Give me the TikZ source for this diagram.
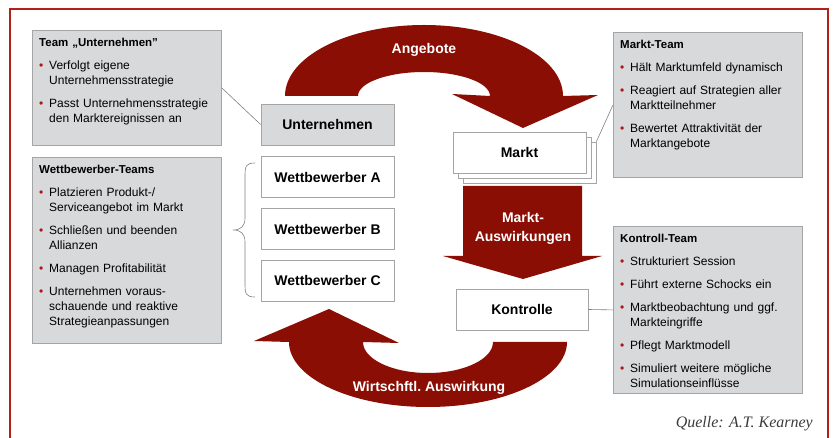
\documentclass[tikz,border=0pt]{standalone}
\usepackage{fontspec}
\setmainfont{Liberation Sans}
\newfontfamily\quellfont{Liberation Serif}
\usepackage{tikz}
\usetikzlibrary{positioning}
\definecolor{flowclr}{RGB}{139,14,4}
\definecolor{frameclr}{RGB}{178,32,26}
\definecolor{boxclr}{RGB}{216,217,219}
\definecolor{lineclr}{RGB}{165,165,165}
\definecolor{dotclr}{RGB}{175,22,20}
\definecolor{quelleclr}{RGB}{60,60,60}

% heading and bullet lines inside the team boxes
\newcommand{\kopf}[1]{\noindent{\fontsize{11.5}{15}\selectfont\bfseries #1}\par}
\newcommand{\punkt}[1]{\vspace{8pt}\hangindent=10pt\hangafter=1\noindent
  \makebox[10pt][l]{\textcolor{dotclr}{\textbullet}}#1\par}

\tikzset{ %
  ,box/.style={draw=lineclr, line width=0.8pt, fill=white, minimum width=133pt, minimum height=41pt, inner sep=0, font=\fontsize{14}{17}\selectfont\bfseries}
  ,teambox/.style={draw=lineclr, line width=0.8pt, fill=boxclr, inner sep=0, minimum width=189pt, anchor=north west}
  ,teamtxt/.style={inner sep=0, text width=180pt, align=left, font=\fontsize{12}{15}\selectfont}
  ,link/.style={draw=gray, line width=0.6pt}
  ,flow/.style={fill=flowclr}
  ,flowtxt/.style={text=white, inner sep=0, font=\fontsize{14}{19}\selectfont\bfseries}
}

\begin{document}
\begin{tikzpicture}[x=1pt, y=-1pt]
  \useasboundingbox (0,0) rectangle (833,438);
  \draw[frameclr, line width=1.5pt] (10,440) -- (10,9) -- (828,9) -- (828,440);

  % team boxes
  \node[teambox, minimum height=115pt] (teamU) at (32,30) {};
  \node[teamtxt, below right=8pt and 7pt of teamU.north west] (teamUtxt) {\kopf{Team „Unternehmen"}
    \punkt{Verfolgt eigene\newline Unternehmensstrategie}
    \punkt{Passt Unternehmensstrategie\newline den Marktereignissen an}};
  \node[teambox, minimum height=186pt] (teamW) at (32,157) {};
  \node[teamtxt, below right=8pt and 7pt of teamW.north west] (teamWtxt) {\kopf{Wettbewerber-Teams}
    \punkt{Platzieren Produkt-/\newline Serviceangebot im Markt}
    \punkt{Schließen und beenden\newline Allianzen}
    \punkt{Managen Profitabilität}
    \punkt{Unternehmen voraus-\newline schauende und reaktive\newline Strategieanpassungen}};
  \node[teambox, minimum height=145pt] (teamM) at (613,32) {};
  \node[teamtxt, below right=8pt and 7pt of teamM.north west] (teamMtxt) {\kopf{Markt-Team}
    \punkt{Hält Marktumfeld dynamisch}
    \punkt{Reagiert auf Strategien aller\newline Marktteilnehmer}
    \punkt{Bewertet Attraktivität der\newline Marktangebote}};
  \node[teambox, minimum height=167pt] (teamK) at (613,226) {};
  \node[teamtxt, below right=8pt and 7pt of teamK.north west] (teamKtxt) {\kopf{Kontroll-Team}
    \punkt{Strukturiert Session}
    \punkt{Führt externe Schocks ein}
    \punkt{Marktbeobachtung und ggf.\newline Markteingriffe}
    \punkt{Pflegt Marktmodell}
    \punkt{Simuliert weitere mögliche\newline Simulationseinflüsse}};

  % players
  \node[box, fill=boxclr] (unt) at (327.5,124.5) {Unternehmen};
  \node[box, below=11pt of unt] (wA) {Wettbewerber A};
  \node[box, below=10pt of wA] (wB) {Wettbewerber B};
  \node[box, below=10pt of wB] (wC) {Wettbewerber C};

  % market as a stack of sheets
  \node[box] (markt3) at (529.5,162.5) {};
  \node[box] (markt2) at (524.5,157.5) {};
  \node[box] (markt) at (519.5,152.5) {Markt};
  \node[box, minimum width=132pt] (kontr) at (522,309.5) {Kontrolle};

  \draw[link] (teamU.east) -- (unt.west);
  \draw[link] (markt3.north east) -- (teamM.west);
  \draw[link] (kontr.east) -- (teamK.west);
  \draw[link] (255,163) .. controls (246,163) and (245,166) .. (245,176) -- (245,218)
    .. controls (245,226) and (241,230) .. (233,230)
    .. controls (241,230) and (245,234) .. (245,242) -- (245,284)
    .. controls (245,294) and (246,297) .. (255,297);

  % flow arrows
  \fill[flow] (285,96) arc[start angle=180, end angle=360, x radius=139, y radius=71]
    -- (598,95) -- (523,128) -- (452,94) -- (490,96)
    arc[start angle=360, end angle=180, x radius=66, y radius=24] -- cycle;
  \fill[flow] (463,186) -- (582,186) -- (582,256) -- (602,256) -- (523,279)
    -- (443,256) -- (463,256) -- cycle;
  \fill[flow] (567,342) arc[start angle=0, end angle=180, x radius=139, y radius=65]
    -- (254,341) -- (329,309) -- (399,343) -- (363,342)
    arc[start angle=180, end angle=0, x radius=65, y radius=31] -- cycle;

  \node[flowtxt] (angebote) at (424,50) {Angebote};
  \node[flowtxt, align=center] (auswirk) at (523,228) {Markt-\\Auswirkungen};
  \node[flowtxt] (wirtsch) at (429,388) {Wirtschftl.\ Auswirkung};

  \node[anchor=base east, inner sep=0, text=quelleclr, font=\quellfont\itshape\fontsize{16}{18}\selectfont] (quelle) at (813,428) {Quelle: A.T.\ Kearney};
\end{tikzpicture}
\end{document}
